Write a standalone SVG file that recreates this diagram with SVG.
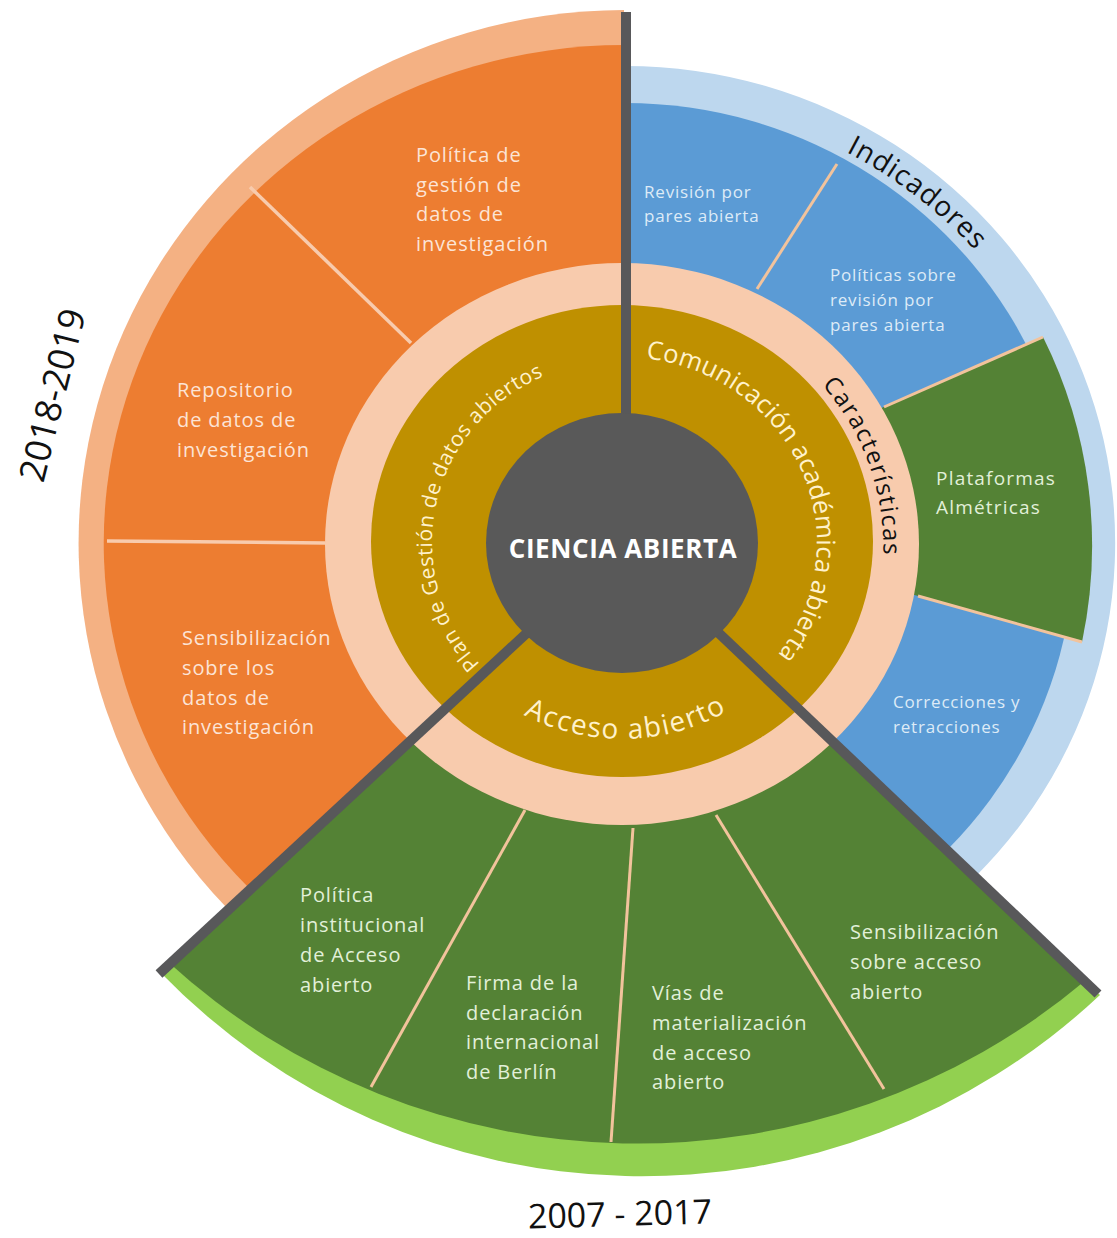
<svg xmlns="http://www.w3.org/2000/svg" width="1117" height="1238" viewBox="0 0 1117 1238">
<style>
text{font-family:"Open Sans","Liberation Sans",Arial,sans-serif}
.or{fill:#FCE4D6;font-size:20px;letter-spacing:0.9px}
.bl{fill:#DEEBF7;font-size:17px;letter-spacing:0.8px}
.gp{fill:#E2F0D9;font-size:19px;letter-spacing:1.2px}
.gr{fill:#E2F0D9;font-size:20px;letter-spacing:0.9px}
.gold{fill:#FFF2CC}
.blk{fill:#111}
.sep{stroke:#F2C39C;stroke-width:3;fill:none}
.sepo{stroke:#F8CBAD;stroke-width:3.5;fill:none}
.div{stroke:#58585A;stroke-width:10;fill:none}
</style>
<defs>
<path id="pComu" d="M 645.8 358.4 A 195 186 0 0 1 719.5 704"/>
<path id="pPlan" d="M 480 664 A 188 182 0 0 1 574 366"/>
<path id="pAcc" d="M 444.5 641 A 205 196 0 0 0 799.5 641"/>
<path id="pCar" d="M 822 385 A 260 251 0 0 1 880 587"/>
<path id="pInd" d="M 846 152 A 468 447 0 0 1 1006 288"/>
</defs>
<rect width="1117" height="1238" fill="#fff"/>

<g id="orange-sector">
<path d="M 624 543 L 624 10 A 547 533 0 0 0 226 907 Z" fill="#F4B183"/>
<path d="M 624 543 L 624 45 A 521 498 0 0 0 248 887 Z" fill="#ED7D31"/>
<line class="sepo" x1="250" y1="187" x2="411" y2="343"/>
<line class="sepo" x1="107" y1="541" x2="325" y2="543"/>
<text class="or"><tspan x="416" y="162">Política de</tspan><tspan x="416" y="192">gestión de</tspan><tspan x="416" y="221">datos de</tspan><tspan x="416" y="251">investigación</tspan></text>
<text class="or"><tspan x="177" y="397">Repositorio</tspan><tspan x="177" y="427">de datos de</tspan><tspan x="177" y="457">investigación</tspan></text>
<text class="or"><tspan x="182" y="645">Sensibilización</tspan><tspan x="182" y="675">sobre los</tspan><tspan x="182" y="705">datos de</tspan><tspan x="182" y="734">investigación</tspan></text>
</g>

<g id="blue-sector">
<path d="M 624 543 L 624 66 A 490 477 0 0 1 976 876 Z" fill="#BDD7EE"/>
<path d="M 624 543 L 624 103 A 450 440 0 0 1 948 849 Z" fill="#5B9BD5"/>
<path d="M 804 442 L 1043 337 A 467 467 0 0 1 1082 642 L 836 573 Z" fill="#548235"/>
<line class="sep" x1="837" y1="164" x2="757" y2="289"/>
<line class="sep" x1="1043" y1="337" x2="884" y2="407"/>
<line class="sep" x1="918" y1="596" x2="1082" y2="642"/>
<text class="bl"><tspan x="644" y="198">Revisión por</tspan><tspan x="644" y="222">pares abierta</tspan></text>
<text class="bl"><tspan x="830" y="281">Políticas sobre</tspan><tspan x="830" y="306">revisión por</tspan><tspan x="830" y="331">pares abierta</tspan></text>
<text class="gp"><tspan x="936" y="485">Plataformas</tspan><tspan x="936" y="514">Almétricas</tspan></text>
<text class="bl"><tspan x="893" y="708">Correcciones y</tspan><tspan x="893" y="733">retracciones</tspan></text>
<text class="blk" font-size="28" letter-spacing="1"><textPath href="#pInd">Indicadores</textPath></text>
</g>

<g id="green-sector">
<path d="M 624 543 L 160 972 A 670 670 0 0 0 1100 995 Z" fill="#92D050"/>
<path d="M 624 543 L 167 961 A 697 697 0 0 0 1086 980 Z" fill="#548235"/>
<line class="sep" x1="525" y1="810" x2="371" y2="1087"/>
<line class="sep" x1="633" y1="828" x2="611" y2="1142"/>
<line class="sep" x1="716" y1="815" x2="884" y2="1089"/>
<text class="gr"><tspan x="300" y="902">Política</tspan><tspan x="300" y="932">institucional</tspan><tspan x="300" y="962">de Acceso</tspan><tspan x="300" y="992">abierto</tspan></text>
<text class="gr"><tspan x="466" y="990">Firma de la</tspan><tspan x="466" y="1020">declaración</tspan><tspan x="466" y="1049">internacional</tspan><tspan x="466" y="1079">de Berlín</tspan></text>
<text class="gr"><tspan x="652" y="1000">Vías de</tspan><tspan x="652" y="1030">materialización</tspan><tspan x="652" y="1060">de acceso</tspan><tspan x="652" y="1089">abierto</tspan></text>
<text class="gr"><tspan x="850" y="939">Sensibilización</tspan><tspan x="850" y="969">sobre acceso</tspan><tspan x="850" y="999">abierto</tspan></text>
</g>

<g id="ring-caracteristicas">
<ellipse cx="622" cy="544" rx="297" ry="281" fill="#F8CBAD"/>
<text class="blk" font-size="24" letter-spacing="1.5"><textPath href="#pCar">Características</textPath></text>
</g>

<g id="ring-gold">
<ellipse cx="622" cy="541" rx="251" ry="236" fill="#BF9000"/>
<text class="gold" font-size="25.5" letter-spacing="0.1"><textPath href="#pComu">Comunicación académica abierta</textPath></text>
<text class="gold" font-size="21" letter-spacing="0.5"><textPath href="#pPlan">Plan de Gestión de datos abiertos</textPath></text>
<text class="gold" font-size="28" letter-spacing="1.5" text-anchor="middle"><textPath href="#pAcc" startOffset="51%">Acceso abierto</textPath></text>
</g>

<g id="connectors">
<line class="div" x1="626" y1="12" x2="626" y2="430"/>
<line class="div" x1="624" y1="543" x2="159" y2="974"/>
<line class="div" x1="624" y1="543" x2="1098" y2="994"/>
</g>

<g id="center">
<ellipse cx="622" cy="543" rx="136" ry="130" fill="#595959"/>
<text x="623" y="558" text-anchor="middle" fill="#fff" font-size="26" font-weight="bold" letter-spacing="0.6">CIENCIA ABIERTA</text>
</g>

<g id="labels">
<text class="blk" font-size="36" text-anchor="middle" transform="translate(52,395) rotate(-76)" y="13">2018-2019</text>
<text class="blk" font-size="34" text-anchor="middle" x="620" y="1226" transform="rotate(-1.5 620 1215)">2007 - 2017</text>
</g>
</svg>
